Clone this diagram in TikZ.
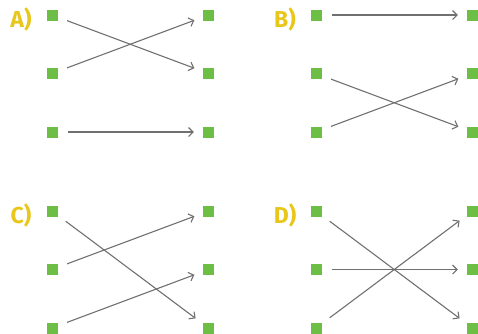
\documentclass[tikz,border=0pt]{standalone}
\usepackage{fontspec}
\setmainfont{Fira Sans}
\usetikzlibrary{arrows.meta}
\definecolor{dotgreen}{HTML}{6DBE45}
\definecolor{lblyellow}{HTML}{E8C61A}
\definecolor{arrgray}{HTML}{707070}

\begin{document}
\begin{tikzpicture}[x=1pt, y=-1pt,
    sq/.style={fill=dotgreen, minimum size=11pt, inner sep=0pt},
    lbl/.style={text=lblyellow, font=\fontsize{23}{23}\selectfont\bfseries, inner sep=0pt},
    arr/.style={-{Straight Barb[length=4.5pt, width=9pt]}, arrgray, line width=1.1pt, shorten <=10pt, shorten >=9pt}]
    \useasboundingbox (0,0) rectangle (478,333);
    \foreach \p/\x/\y in {A/52/15, B/316/15, C/52/211, D/316/211} {
        \node [lbl] (\p lbl) at (\x-31,\y+4) {\p)};
        \foreach \i in {1,2,3} {
            \node [sq] (\p l\i) at (\x, \y+58.5*\i-58.5) {};
            \node [sq] (\p r\i) at (\x+156.5, \y+58.5*\i-58.5) {};
        }
    }
    % A
    \draw [arr] (Al1) -- (Ar2);
    \draw [arr] (Al2) -- (Ar1);
    \draw [arr] (Al3) -- (Ar3);
    % B
    \draw [arr] (Bl1) -- (Br1);
    \draw [arr] (Bl2) -- (Br3);
    \draw [arr] (Bl3) -- (Br2);
    % C
    \draw [arr] (Cl1) -- (Cr3);
    \draw [arr] (Cl2) -- (Cr1);
    \draw [arr] (Cl3) -- (Cr2);
    % D
    \draw [arr] (Dl1) -- (Dr3);
    \draw [arr] (Dl2) -- (Dr2);
    \draw [arr] (Dl3) -- (Dr1);
\end{tikzpicture}
\end{document}
